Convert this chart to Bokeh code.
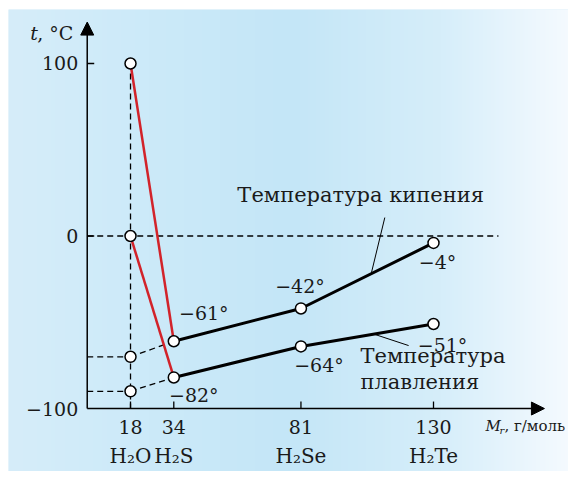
import numpy as np
from bokeh.plotting import figure
from bokeh.models import Range1d, Arrow, NormalHead
from bokeh.core.properties import value
from bokeh.embed import file_html
from bokeh.resources import INLINE

# ---------------- data ----------------
compounds = ["H₂O", "H₂S", "H₂Se", "H₂Te"]
molar_mass = [18, 34, 81, 130]
mass_labels = ["18", "34", "81", "130"]
boiling = [100, -61, -42, -4]
melting = [0, -82, -64, -51]
boiling_h2o_extrapolated = -70
melting_h2o_extrapolated = -90
boiling_labels = ["−61°", "−42°", "−4°"]
melting_labels = ["−82°", "−64°", "−51°"]
y_ticks = [-100, 0, 100]
y_tick_labels = ["−100", "0", "100"]

# ---------------- layout / style ----------------
FONT = value("DejaVu Serif")
FS = "19px"
FS_NOTE = "21px"
X0 = 2        # x of the y axis (origin)
Y0 = -100     # y of the x axis
XMIN, XMAX = -27.1, 179.9
YMIN, YMAX = -136.5, 131.3

p = figure(width=568, height=471, x_range=Range1d(XMIN, XMAX), y_range=Range1d(YMIN, YMAX),
           x_axis_type=None, y_axis_type=None, output_backend="svg", toolbar_location=None,
           min_border=0, min_border_left=8, min_border_top=9)
p.grid.visible = False
p.outline_line_color = None
p.border_fill_color = "white"
p.background_fill_color = "#d5edf9"

# background gradient (horizontal)
N = 560
stops_px = [0, 140, 282, 432, 568]
stops_col = np.array([[214, 237, 250], [204, 234, 249], [196, 230, 247], [214, 238, 250], [247, 251, 255]], float)
cols = np.arange(N)
img = np.empty((1, N), dtype=np.uint32)
view = img.view(dtype=np.uint8).reshape((1, N, 4))
for c in range(3):
    view[0, :, c] = np.interp(cols, stops_px, stops_col[:, c]).astype(np.uint8)
view[0, :, 3] = 255
p.image_rgba(image=[img], x=XMIN, y=YMIN, dw=XMAX - XMIN, dh=YMAX - YMIN)

DASH = "6 4"
# dashed guide lines
p.segment(x0=[molar_mass[0]], y0=[boiling[0]], x1=[molar_mass[0]], y1=[Y0],
          line_color="black", line_width=1.3, line_dash=DASH)
p.segment(x0=[X0], y0=[0], x1=[154], y1=[0], line_color="black", line_width=1.3, line_dash=DASH)
p.segment(x0=[X0, X0], y0=[boiling_h2o_extrapolated, melting_h2o_extrapolated],
          x1=[molar_mass[0]] * 2, y1=[boiling_h2o_extrapolated, melting_h2o_extrapolated],
          line_color="black", line_width=1.3, line_dash=DASH)
p.segment(x0=[molar_mass[0]] * 2, y0=[boiling_h2o_extrapolated, melting_h2o_extrapolated],
          x1=[molar_mass[1]] * 2, y1=[boiling[1], melting[1]],
          line_color="black", line_width=1.3, line_dash=DASH)

# axes
p.add_layout(Arrow(end=NormalHead(size=13, fill_color="black", line_color="black"),
                   x_start=X0, y_start=Y0, x_end=X0, y_end=124, line_width=1.5, line_color="black"))
p.add_layout(Arrow(end=NormalHead(size=13, fill_color="black", line_color="black"),
                   x_start=X0, y_start=Y0, x_end=171, y_end=Y0, line_width=1.5, line_color="black"))
p.ray(x=[X0, X0], y=[0, 100], length=7, length_units="screen", angle=0, line_color="black", line_width=1.3)
p.ray(x=molar_mass, y=[Y0] * 4, length=7, length_units="screen", angle=np.pi / 2,
      line_color="black", line_width=1.3)

p.text(x=[X0] * 3, y=y_ticks, text=y_tick_labels, x_offset=-9, text_align="right",
       text_baseline="middle", text_font=FONT, text_font_size=FS, text_color="#1a1a1a")
p.text(x=molar_mass, y=[Y0] * 4, text=mass_labels, y_offset=18, text_align="center",
       text_baseline="middle", text_font=FONT, text_font_size=FS, text_color="#1a1a1a")
p.text(x=molar_mass, y=[Y0] * 4, text=compounds, y_offset=47, text_align="center",
       text_baseline="middle", text_font=FONT, text_font_size="20px", text_color="#1a1a1a")

# axis titles
p.text(x=[X0], y=[124], text=["t"], x_offset=-57, y_offset=11, text_align="left", text_baseline="middle",
       text_font=FONT, text_font_size=FS, text_font_style="italic", text_color="#1a1a1a")
p.text(x=[X0], y=[124], text=[", °C"], x_offset=-50, y_offset=11, text_align="left", text_baseline="middle",
       text_font=FONT, text_font_size=FS, text_color="#1a1a1a")
p.text(x=[171], y=[Y0], text=["M"], x_offset=-59, y_offset=17, text_align="left", text_baseline="middle",
       text_font=FONT, text_font_size="15px", text_font_style="italic", text_color="#1a1a1a")
p.text(x=[171], y=[Y0], text=["r"], x_offset=-45, y_offset=22, text_align="left", text_baseline="middle",
       text_font=FONT, text_font_size="10px", text_font_style="italic", text_color="#1a1a1a")
p.text(x=[171], y=[Y0], text=[", г/моль"], x_offset=-40, y_offset=17, text_align="left", text_baseline="middle",
       text_font=FONT, text_font_size="15px", text_color="#1a1a1a")

# red lines (anomalous water)
RED = "#d2232a"
p.line(x=molar_mass[:2], y=boiling[:2], line_color=RED, line_width=2.5)
p.line(x=molar_mass[:2], y=melting[:2], line_color=RED, line_width=2.5)
# black lines
p.line(x=molar_mass[1:], y=boiling[1:], line_color="black", line_width=3)
p.line(x=molar_mass[1:], y=melting[1:], line_color="black", line_width=3)

# leader lines
fb, fm = 0.53, 0.55
bx = molar_mass[2] + fb * (molar_mass[3] - molar_mass[2])
by = boiling[2] + fb * (boiling[3] - boiling[2])
mx = molar_mass[2] + fm * (molar_mass[3] - molar_mass[2])
my = melting[2] + fm * (melting[3] - melting[2])
p.segment(x0=[bx, mx], y0=[by, my], x1=[112, 120.8], y1=[10.7, -63.5], line_color="black", line_width=1)

# points
px = molar_mass + molar_mass + [molar_mass[0]] * 2
py = boiling + melting + [boiling_h2o_extrapolated, melting_h2o_extrapolated]
p.scatter(x=px, y=py, size=11, fill_color="white", line_color="black", line_width=1.5)

# value labels
p.text(x=molar_mass[1:], y=boiling[1:], text=boiling_labels, x_offset=[30, -1, 4], y_offset=[-28, -22, 19],
       text_align="center", text_baseline="middle", text_font=FONT, text_font_size=FS, text_color="#1a1a1a")
p.text(x=molar_mass[1:], y=melting[1:], text=melting_labels, x_offset=[20, 18, 9], y_offset=[18, 19, 21],
       text_align="center", text_baseline="middle", text_font=FONT, text_font_size=FS, text_color="#1a1a1a")

# series annotations
p.text(x=[57.5], y=[23.5], text=["Температура кипения"], text_align="left", text_baseline="middle",
       text_font=FONT, text_font_size=FS_NOTE, text_color="#1a1a1a")
p.text(x=[103, 103], y=[-69.3, -84.9], text=["Температура", "плавления"], text_align="left",
       text_baseline="middle", text_font=FONT, text_font_size=FS_NOTE, text_color="#1a1a1a")

open("out.html", "w").write(file_html(p, INLINE))
